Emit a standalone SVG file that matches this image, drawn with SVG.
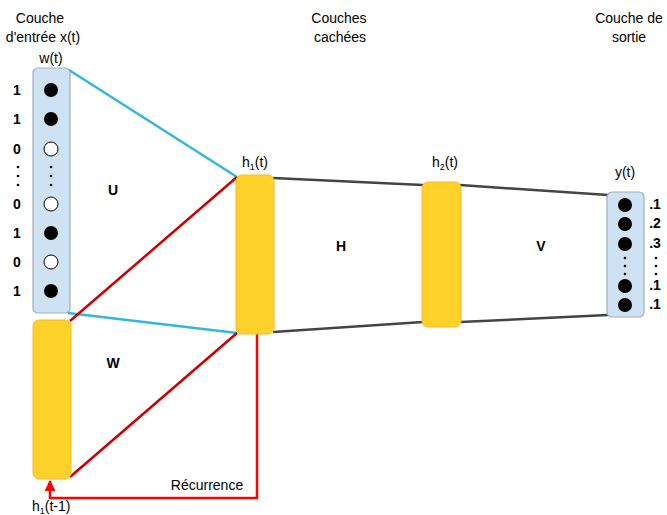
<svg xmlns="http://www.w3.org/2000/svg" width="667" height="515" viewBox="0 0 667 515">
<defs>
<style>
text{font-family:"Liberation Sans",Arial,sans-serif;fill:#000}
.hd{font-size:14px;text-anchor:middle}
.lb{font-size:14px;text-anchor:middle}
.b{font-size:14px;font-weight:bold;text-anchor:middle}
.big{font-size:14px;font-weight:bold;text-anchor:middle}
.blue{fill:#cfe2f3;stroke:#9fb0bf;stroke-width:1.2}
.orange{fill:#ffd22a;stroke:#ffb52a;stroke-width:1}
.on{fill:#000}
.off{fill:#fff;stroke:#000;stroke-width:1}
.cb{stroke:#35b6dc;stroke-width:2.5;fill:none}
.cr{stroke:#cc0000;stroke-width:2.5;fill:none}
.cg{stroke:#444;stroke-width:2.5;fill:none}
.rec{stroke:#ff0000;stroke-width:2.5;fill:none}
.dot{fill:#000}
</style>
<marker id="ah" viewBox="0 0 10 10" refX="9" refY="5" markerWidth="4.4" markerHeight="4.4" orient="auto" markerUnits="strokeWidth">
<path d="M0,0 L10,5 L0,10 z" fill="#ff0000"/>
</marker>
</defs>

<g id="connectors">
<line class="cb" x1="69" y1="70" x2="237" y2="177"/>
<line class="cb" x1="68" y1="313" x2="237" y2="333"/>
<line class="cr" x1="70" y1="321" x2="237" y2="177"/>
<line class="cr" x1="70" y1="477" x2="237" y2="333"/>
<line class="cg" x1="273" y1="178" x2="423" y2="185"/>
<line class="cg" x1="460" y1="185" x2="608" y2="195"/>
<line class="cg" x1="273" y1="332" x2="423" y2="322"/>
<line class="cg" x1="460" y1="322" x2="608" y2="315"/>
<polyline class="rec" points="257,334 257,498 50,498 50,481" marker-end="url(#ah)"/>
</g>

<g id="headers">
<text class="hd" x="40" y="23">Couche</text>
<text class="hd" x="43" y="42">d'entrée x(t)</text>
<text class="hd" x="339" y="23">Couches</text>
<text class="hd" x="340" y="42">cachées</text>
<text class="hd" x="629" y="23">Couche de</text>
<text class="hd" x="629" y="42">sortie</text>
</g>

<g id="input">
<text class="lb" x="51" y="63">w(t)</text>
<rect class="blue" x="33" y="68" width="37" height="245" rx="5"/>
<circle class="on" cx="51" cy="90" r="7"/>
<circle class="on" cx="51" cy="119" r="7"/>
<circle class="off" cx="51" cy="149" r="7"/>
<circle class="dot" cx="51" cy="167" r="1.3"/>
<circle class="dot" cx="51" cy="176" r="1.3"/>
<circle class="dot" cx="51" cy="185" r="1.3"/>
<circle class="off" cx="51" cy="204" r="7"/>
<circle class="on" cx="51" cy="233" r="7"/>
<circle class="off" cx="51" cy="262" r="7"/>
<circle class="on" cx="51" cy="291" r="7"/>
<text class="b" x="17" y="95">1</text>
<text class="b" x="17" y="124">1</text>
<text class="b" x="17" y="154">0</text>
<circle class="dot" cx="18" cy="167" r="1.3"/>
<circle class="dot" cx="18" cy="176" r="1.3"/>
<circle class="dot" cx="18" cy="185" r="1.3"/>
<text class="b" x="17" y="209">0</text>
<text class="b" x="17" y="238">1</text>
<text class="b" x="17" y="267">0</text>
<text class="b" x="17" y="296">1</text>
</g>

<g id="context">
<rect class="orange" x="33" y="320" width="38" height="159" rx="6"/>
<text x="32" y="511" style="font-size:14px">h<tspan dy="3" style="font-size:9px">1</tspan><tspan dy="-3">(t-1)</tspan></text>
</g>

<g id="h1">
<text x="242" y="167" style="font-size:14px">h<tspan dy="3" style="font-size:9px">1</tspan><tspan dy="-3">(t)</tspan></text>
<rect class="orange" x="236" y="175" width="38" height="159" rx="6"/>
</g>

<g id="h2">
<text x="432" y="167" style="font-size:14px">h<tspan dy="3" style="font-size:9px">2</tspan><tspan dy="-3">(t)</tspan></text>
<rect class="orange" x="422" y="182" width="39" height="145" rx="6"/>
</g>

<g id="output">
<text class="lb" x="625" y="177">y(t)</text>
<rect class="blue" x="607" y="192" width="37" height="125" rx="5"/>
<circle class="on" cx="625" cy="205" r="7"/>
<circle class="on" cx="625" cy="224" r="7"/>
<circle class="on" cx="625" cy="244" r="7"/>
<circle class="dot" cx="625" cy="258" r="1.3"/>
<circle class="dot" cx="625" cy="266" r="1.3"/>
<circle class="dot" cx="625" cy="274" r="1.3"/>
<circle class="on" cx="625" cy="286" r="7"/>
<circle class="on" cx="625" cy="305" r="7"/>
<text class="b" x="655" y="209">.1</text>
<text class="b" x="655" y="228">.2</text>
<text class="b" x="655" y="248">.3</text>
<circle class="dot" cx="656" cy="258" r="1.3"/>
<circle class="dot" cx="656" cy="266" r="1.3"/>
<circle class="dot" cx="656" cy="274" r="1.3"/>
<text class="b" x="655" y="290">.1</text>
<text class="b" x="655" y="309">.1</text>
</g>

<g id="labels">
<text class="big" x="113" y="195">U</text>
<text class="big" x="113" y="368">W</text>
<text class="big" x="341" y="251">H</text>
<text class="big" x="541" y="251">V</text>
<text x="207" y="490" style="font-size:14px;text-anchor:middle">Récurrence</text>
</g>
</svg>
